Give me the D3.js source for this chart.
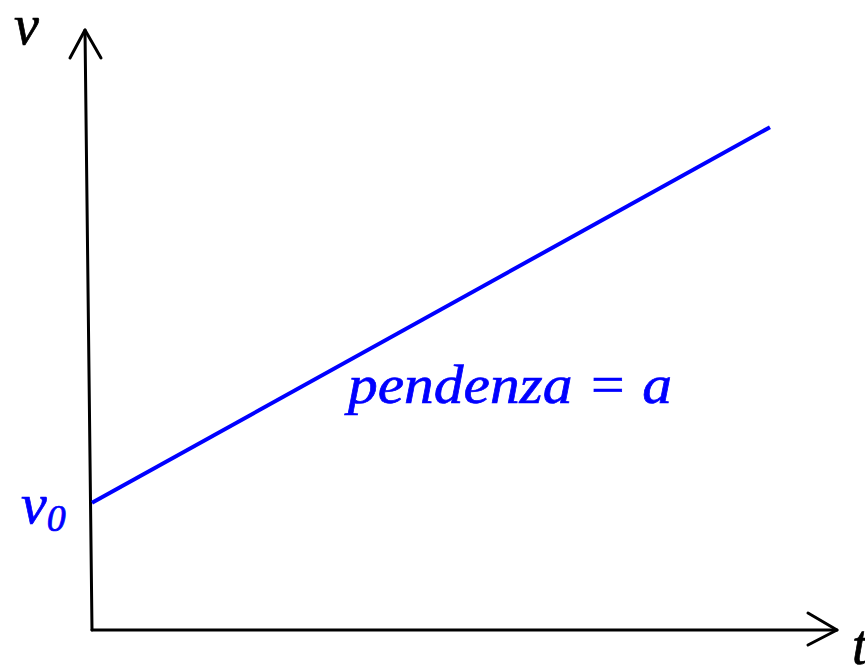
<!DOCTYPE html>
<html>
<head>
<meta charset="utf-8">
<script src="https://cdn.jsdelivr.net/npm/d3@7"></script>
<style>
  body { margin: 0; background: #fff; }
  text { font-family: 'Liberation Serif', 'Times New Roman', serif; font-style: italic; stroke-width: 0.7px; }
</style>
</head>
<body>
<script>
const width = 865
const height = 666

// line v(t) = v0 + a t
const times = [0, 9.1]
const speeds = [2.12, 8.38]
const slopeLabel = 'pendenza = a'

const x = d3.scaleLinear().domain([0, 10]).range([92, 837])
const y = d3.scaleLinear().domain([0, 10]).range([630, 30])
const skew = -7 // y axis leans a bit to the left at the top

const svg = d3.select('body').append('svg').attr('width', width).attr('height', height)

// axes
const axes = svg.append('g').attr('stroke', '#000').attr('stroke-width', 3).attr('fill', 'none')
  .attr('stroke-linecap', 'round').attr('stroke-linejoin', 'round')

axes.append('path')
  .attr('d', `M${x(0)},${y(0)} L${x(0) + skew},${y(10)}`)
axes.append('path')
  .attr('d', `M${x(0) + skew - 15},${y(10) + 28} L${x(0) + skew},${y(10)} L${x(0) + skew + 16},${y(10) + 28}`)

axes.append('path')
  .attr('d', `M${x(0)},${y(0)} L${x(10)},${y(0)}`)
axes.append('path')
  .attr('d', `M${x(10) - 29},${y(0) - 17} L${x(10)},${y(0)} L${x(10) - 29},${y(0) + 15}`)

// blue line
const line = d3.line().x(d => x(d[0])).y(d => y(d[1]))
svg.append('path')
  .datum(d3.zip(times, speeds))
  .attr('d', line)
  .attr('fill', 'none')
  .attr('stroke', '#0000ff')
  .attr('stroke-width', 4)

// labels
svg.append('text').attr('x', 14).attr('y', 44).attr('font-size', 56)
  .attr('fill', '#000').attr('stroke', '#000').text('v')
svg.append('text').attr('x', 852).attr('y', 664).attr('font-size', 56)
  .attr('fill', '#000').attr('stroke', '#000').text('t')

const v0 = svg.append('text').attr('x', 21).attr('y', 523).attr('font-size', 58)
  .attr('fill', '#0000ff').attr('stroke', '#0000ff')
v0.append('tspan').text('v')
v0.append('tspan').attr('font-size', 38).attr('dy', 8).text('0')

svg.append('text').attr('x', 348).attr('y', 403).attr('font-size', 54)
  .attr('textLength', 324).attr('lengthAdjust', 'spacingAndGlyphs')
  .attr('fill', '#0000ff').attr('stroke', '#0000ff').text(slopeLabel)
</script>
</body>
</html>
